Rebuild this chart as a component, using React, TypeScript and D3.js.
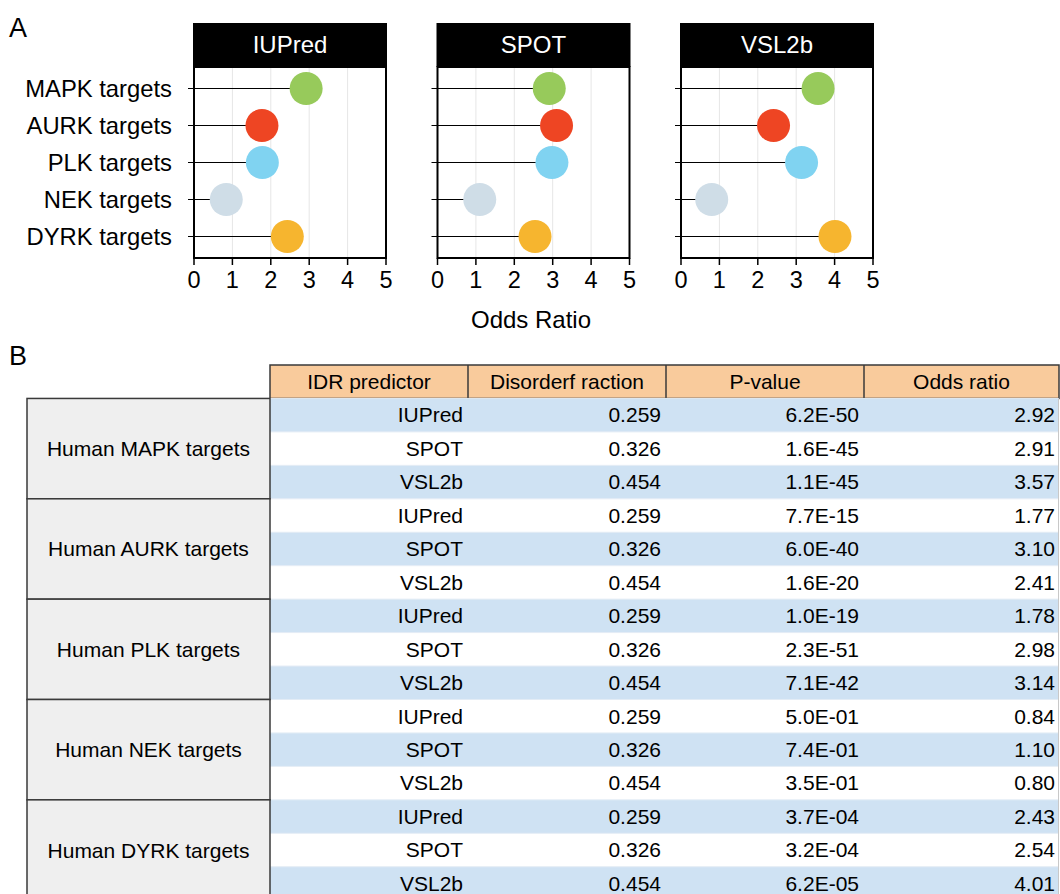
import React from "react";
import * as d3 from "d3";

// Odds ratios per predictor, in kinase order
const kinases = ["MAPK", "AURK", "PLK", "NEK", "DYRK"];
const predictors = ["IUPred", "SPOT", "VSL2b"];
const oddsIUPred = [2.92, 1.77, 1.78, 0.84, 2.43];
const oddsSPOT = [2.91, 3.1, 2.98, 1.1, 2.54];
const oddsVSL2b = [3.57, 2.41, 3.14, 0.8, 4.01];
const disorderFraction = [0.259, 0.326, 0.454];
// P-values per kinase, predictor order IUPred, SPOT, VSL2b
const pMAPK = ["6.2E-50", "1.6E-45", "1.1E-45"];
const pAURK = ["7.7E-15", "6.0E-40", "1.6E-20"];
const pPLK = ["1.0E-19", "2.3E-51", "7.1E-42"];
const pNEK = ["5.0E-01", "7.4E-01", "3.5E-01"];
const pDYRK = ["3.7E-04", "3.2E-04", "6.2E-05"];
const xTicks = [0, 1, 2, 3, 4, 5];
const tableHeaders = ["IDR predictor", "Disorderf raction", "P-value", "Odds ratio"];

const kinaseColors = ["#97CA5B", "#EE4523", "#80D3F1", "#CFDDE7", "#F6B52F"];
const oddsByPredictor = [oddsIUPred, oddsSPOT, oddsVSL2b];
const pByKinase = [pMAPK, pAURK, pPLK, pNEK, pDYRK];

const FONT = "'Liberation Sans', Arial, Helvetica, sans-serif";

function Panel({ name, odds, left }: { name: string; odds: number[]; left: number }) {
  const width = 192;
  const headerTop = 23;
  const plotTop = 67;
  const plotBottom = 258;
  const x = d3.scaleLinear().domain([0, 5]).range([left, left + width]);
  const y = d3.scalePoint<string>().domain(kinases).range([plotTop + 21.5, plotBottom - 21.5]);
  return (
    <g>
      <rect x={left - 1} y={headerTop} width={width + 2} height={plotTop - headerTop} fill="#000" />
      <text x={left + width / 2} y={53} textAnchor="middle" fill="#fff" fontSize={24}>
        {name}
      </text>
      <rect x={left} y={plotTop} width={width} height={plotBottom - plotTop} fill="#fff" />
      {xTicks.slice(1, -1).map((t) => (
        <line key={t} x1={x(t)} x2={x(t)} y1={plotTop} y2={plotBottom} stroke="#e6e6e6" strokeWidth={1} />
      ))}
      {kinases.map((k, i) => (
        <g key={k}>
          <line x1={left - 6} x2={x(odds[i])} y1={y(k)} y2={y(k)} stroke="#000" strokeWidth={1.2} />
          <circle cx={x(odds[i])} cy={y(k)} r={16.5} fill={kinaseColors[i]} />
        </g>
      ))}
      <rect x={left} y={plotTop} width={width} height={plotBottom - plotTop} fill="none" stroke="#000" strokeWidth={2} />
      {xTicks.map((t) => (
        <g key={t}>
          <line x1={x(t)} x2={x(t)} y1={plotBottom} y2={plotBottom + 7} stroke="#000" strokeWidth={1.5} />
          <text x={x(t)} y={288} textAnchor="middle" fontSize={23.5} fill="#000">
            {t}
          </text>
        </g>
      ))}
    </g>
  );
}

function Table() {
  const colX = [27, 270, 468, 666, 864, 1059];
  const top = 365;
  const rowH = 33.45;
  const rows = kinases.flatMap((k, ki) =>
    predictors.map((p, pi) => ({
      kinase: k,
      ki,
      pi,
      predictor: p,
      frac: disorderFraction[pi].toFixed(3),
      pval: pByKinase[ki][pi],
      odds: oddsByPredictor[pi][ki].toFixed(2),
    }))
  );
  const rowY = (i: number) => top + rowH * (i + 1);
  const border = "#3a3a3a";
  return (
    <g fontSize={21} fill="#000">
      {/* header */}
      <rect x={colX[1]} y={top} width={colX[5] - colX[1]} height={rowH} fill="#F9CB9C" stroke={border} strokeWidth={1.5} />
      {tableHeaders.map((h, i) => (
        <g key={h}>
          {i > 0 && <line x1={colX[i + 1]} x2={colX[i + 1]} y1={top} y2={top + rowH} stroke={border} strokeWidth={1.5} />}
          <text x={(colX[i + 1] + colX[i + 2]) / 2} y={top + 24} textAnchor="middle">
            {h}
          </text>
        </g>
      ))}
      {/* body rows */}
      {rows.map((r, i) => (
        <g key={i}>
          <rect x={colX[1]} y={rowY(i)} width={colX[5] - colX[1]} height={rowH} fill={i % 2 === 0 ? "#CFE2F3" : "#fff"} />
          <line x1={colX[1]} x2={colX[5]} y1={rowY(i)} y2={rowY(i)} stroke="#e3ecf5" strokeWidth={1} />
          <text x={colX[2] - 5} y={rowY(i) + 24} textAnchor="end">{r.predictor}</text>
          <text x={colX[3] - 5} y={rowY(i) + 24} textAnchor="end">{r.frac}</text>
          <text x={colX[4] - 5} y={rowY(i) + 24} textAnchor="end">{r.pval}</text>
          <text x={colX[5] - 4} y={rowY(i) + 24} textAnchor="end">{r.odds}</text>
        </g>
      ))}
      <line x1={colX[5] - 0.5} x2={colX[5] - 0.5} y1={top + rowH} y2={top + rowH * 16} stroke="#c8c8c8" strokeWidth={1} />
      {/* group cells */}
      {kinases.map((k, ki) => {
        const gy = rowY(ki * 3);
        return (
          <g key={k}>
            <rect x={colX[0]} y={gy} width={colX[1] - colX[0]} height={rowH * 3} fill="#EFEFEF" stroke={border} strokeWidth={1.5} />
            <text x={(colX[0] + colX[1]) / 2} y={gy + rowH * 1.5 + 7.5} textAnchor="middle">
              {`Human ${k} targets`}
            </text>
          </g>
        );
      })}
    </g>
  );
}

export default function App() {
  const panelLefts = [194, 437.5, 681];
  return (
    <div style={{ position: "absolute", left: 0, top: 0 }}>
      <svg width={1060} height={894} style={{ display: "block", fontFamily: FONT }}>
        <rect width={1060} height={894} fill="#fff" />
        <text x={9} y={37} fontSize={27} fill="#000">A</text>
        {kinases.map((k, i) => (
          <text key={k} x={172} y={88.5 + 37 * i + 8} textAnchor="end" fontSize={23.8} fill="#000">
            {`${k} targets`}
          </text>
        ))}
        {predictors.map((p, i) => (
          <Panel key={p} name={p} odds={oddsByPredictor[i]} left={panelLefts[i]} />
        ))}
        <text x={531} y={328} textAnchor="middle" fontSize={24} fill="#000">Odds Ratio</text>
        <text x={9} y={365} fontSize={27} fill="#000">B</text>
        <Table />
      </svg>
    </div>
  );
}
